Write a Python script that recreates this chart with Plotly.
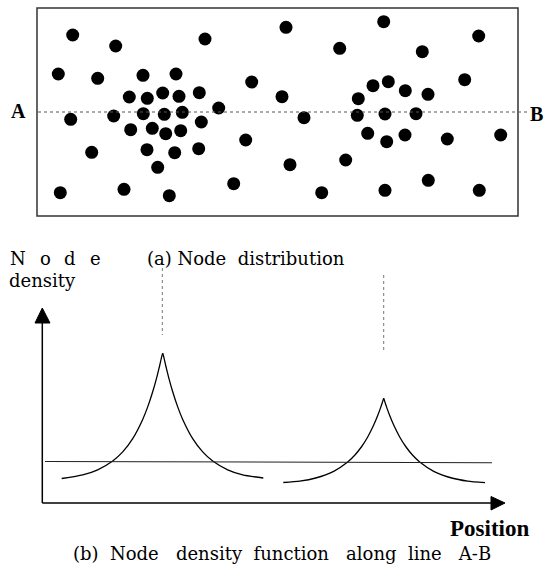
import plotly.graph_objects as go

# ---- data (units = picture positions) ----
node_x = [72.7, 115.7, 205, 58.3, 97.7, 143, 176, 251.7, 129.3, 147.3, 162.7, 179, 199.3,
          218.7, 70.7, 113.7, 143.3, 164.3, 182.3, 201.3, 130.7, 152.3, 165.7, 180.7, 245.7,
          91.7, 147, 174.7, 198.7, 157.7, 60.3, 124, 169.3, 233.7,
          286, 383.7, 478.7, 339.7, 422.3, 282, 373, 388.3, 405.3, 428, 464.7, 358.3, 304,
          357.3, 385, 416, 367.7, 386.7, 405, 447.3, 500.7, 290, 345.7, 428.3, 321.7, 385, 479.3]
node_y = [35, 46, 39, 74, 78.3, 75.3, 74, 82, 97, 98.3, 93, 96.3, 92.7,
          108, 119.3, 116, 113.7, 114.3, 112.3, 122, 129.7, 128.3, 133.7, 130.7, 140,
          152.3, 149.7, 152.7, 148.7, 167.3, 192.7, 189.3, 195.7, 183.7,
          27.3, 21.7, 36, 48.3, 51.7, 96.7, 85.7, 81.7, 90.7, 94.3, 79.7, 98.7, 117.7,
          115.3, 114, 113.7, 133.3, 141.7, 135, 139, 135, 164.7, 160, 180.3, 192.7, 190.3, 190.3]

c1_left_x = [61.7, 82.7, 97.7, 112.7, 122.7, 132.7, 142.7, 147.7, 152.7, 156.7, 159.7, 161.7, 162.7]
c1_left_y = [478.5, 474.9, 469.8, 461, 451.9, 438.6, 419.4, 406.9, 391.8, 377.6, 365.5, 356.7, 353.3]
c1_right_x = [162.7, 163.7, 165.7, 168.7, 172.7, 177.7, 182.7, 192.7, 202.7, 212.7, 227.7, 242.7, 263.3]
c1_right_y = [353.3, 356.7, 365.5, 377.6, 391.8, 406.9, 419.4, 438.6, 451.9, 461, 469.8, 474.9, 478]

c2_left_x = [283.3, 299.7, 315.7, 333.7, 347.7, 354.7, 361.7, 367.7, 373.7, 377.7, 380.7, 382.7, 383.7]
c2_left_y = [482.5, 481.1, 478, 471.3, 462, 455.3, 446.5, 437, 425.1, 415.6, 407.4, 401.4, 398.3]
c2_right_x = [383.7, 384.7, 386.7, 389.7, 393.7, 399.7, 405.7, 412.7, 419.7, 433.7, 451.7, 467.7, 485]
c2_right_y = [398.3, 401.4, 407.4, 415.6, 425.1, 437, 446.5, 455.3, 462, 471.3, 478, 481.1, 482.7]

thr_x = [45, 492]
thr_y = [461.5, 462.7]

SERIF = "DejaVu Serif"
BOLD_SERIF = "Liberation Serif"

fig = go.Figure()

# nodes
fig.add_trace(go.Scatter(x=node_x, y=node_y, mode="markers",
                         marker=dict(size=13, color="black", line=dict(width=0))))

# density curves
for xs, ys in [(c1_left_x, c1_left_y), (c1_right_x, c1_right_y),
               (c2_left_x, c2_left_y), (c2_right_x, c2_right_y)]:
    fig.add_trace(go.Scatter(x=xs, y=ys, mode="lines",
                             line=dict(color="black", width=1.3, shape="spline", smoothing=0.6)))

# threshold line
fig.add_trace(go.Scatter(x=thr_x, y=thr_y, mode="lines", line=dict(color="#222", width=1.1)))

# arrowheads
fig.add_trace(go.Scatter(x=[42.3, 35, 50, 42.3], y=[308, 323, 323, 308], mode="lines",
                         fill="toself", fillcolor="black", line=dict(color="black", width=1)))
fig.add_trace(go.Scatter(x=[505, 491, 491, 505], y=[503, 496.5, 510, 503], mode="lines",
                         fill="toself", fillcolor="black", line=dict(color="black", width=1)))

shapes = [
    dict(type="rect", x0=37, y0=8, x1=518, y1=216, line=dict(color="#333", width=1.5)),
    dict(type="line", x0=38, y0=112, x1=529, y1=112, line=dict(color="#555", width=1, dash="dot")),
    dict(type="line", x0=162.3, y0=268, x1=162.3, y1=335, line=dict(color="#777", width=1, dash="dot")),
    dict(type="line", x0=383.7, y0=275, x1=383.7, y1=353, line=dict(color="#777", width=1, dash="dot")),
    dict(type="line", x0=42.3, y0=503, x1=42.3, y1=320, line=dict(color="black", width=1.5)),
    dict(type="line", x0=42.3, y0=503, x1=493, y1=503, line=dict(color="black", width=1.5)),
]

ann = []
def txt(x, y, s, size=18, font=SERIF, bold=False, xanchor="center"):
    ann.append(dict(x=x, y=y, text=("<b>%s</b>" % s) if bold else s, showarrow=False,
                    xanchor=xanchor, yanchor="middle",
                    font=dict(family=font, size=size, color="black")))

txt(18.5, 111, "A", size=20, font=BOLD_SERIF, bold=True)
txt(536, 114, "B", size=20, font=BOLD_SERIF, bold=True)
for ch, cx in zip(["N", "o", "d", "e"], [17.5, 45, 70, 95]):
    txt(cx, 258, ch, size=18)
txt(7, 280, "density", size=18, xanchor="left")
txt(246, 258, "(a)\u00a0Node\u00a0\u00a0distribution", size=18)
txt(489, 528, "Position", size=23, font=BOLD_SERIF, bold=True)
txt(282, 553, "(b)\u00a0\u00a0Node\u00a0\u00a0\u00a0density\u00a0\u00a0function\u00a0\u00a0\u00a0along\u00a0\u00a0line\u00a0\u00a0\u00a0A-B", size=18)

fig.update_layout(
    width=544, height=565, autosize=False,
    margin=dict(l=0, r=0, t=0, b=0),
    paper_bgcolor="white", plot_bgcolor="white",
    showlegend=False,
    shapes=shapes, annotations=ann,
    xaxis=dict(range=[0, 544], visible=False, fixedrange=True),
    yaxis=dict(range=[565, 0], visible=False, fixedrange=True),
)

fig.write_html("out.html", config={"displayModeBar": False},
               post_script="document.body.style.margin='0px';document.body.style.overflow='hidden';")
